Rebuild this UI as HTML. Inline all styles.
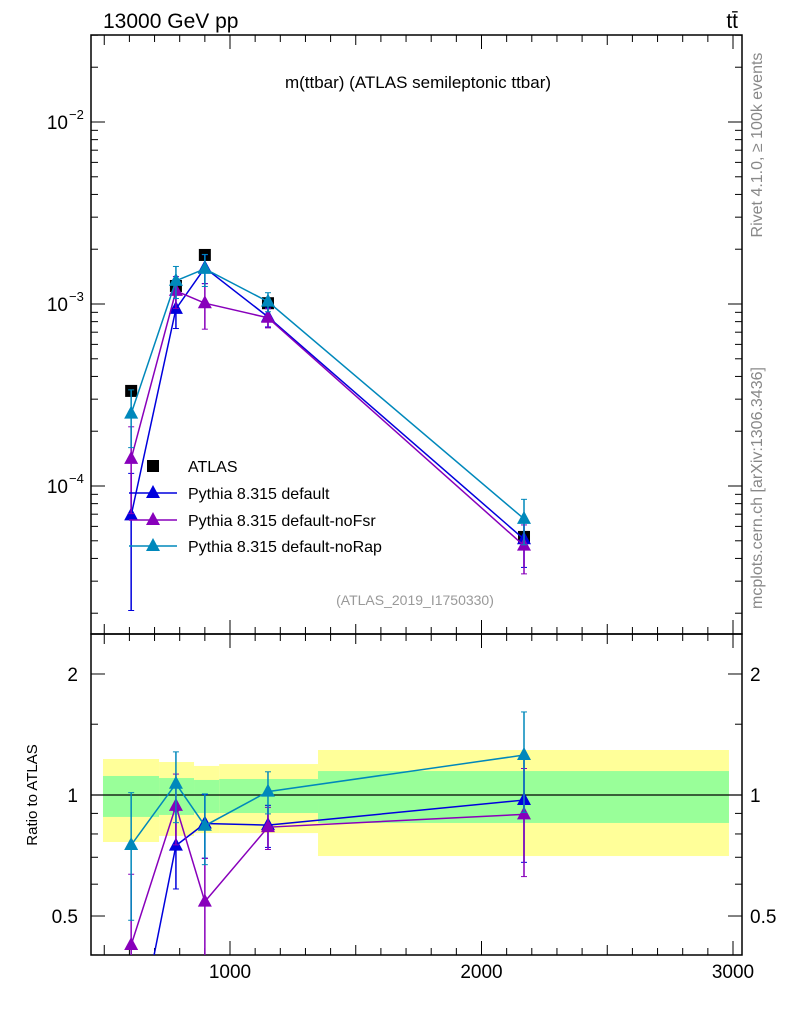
<!DOCTYPE html>
<html><head><meta charset="utf-8"><style>
html,body{margin:0;background:#fff;overflow:hidden;width:786px;height:1024px}
svg{display:block}
svg text{font-family:"Liberation Sans",sans-serif}
</style></head><body>
<svg id="c" width="786" height="1024" xmlns="http://www.w3.org/2000/svg"></svg>
<script>
const xs=[607,785,900,1151,2169];
const binEdges=[495,718,857,957,1350,2984];
const atlas=[3.33e-4,1.256e-3,1.86e-3,1.01e-3,5.25e-5];
const pyDefault=[6.9e-5,9.4e-4,1.58e-3,8.5e-4,5.1e-5];
const pyNoFsr=[1.41e-4,1.18e-3,1.01e-3,8.4e-4,4.7e-5];
const pyNoRap=[2.5e-4,1.34e-3,1.56e-3,1.03e-3,6.6e-5];
const errDefault=[0.7,0.22,0.18,0.12,0.3];
const errNoFsr=[0.5,0.2,0.28,0.12,0.3];
const errNoRap=[0.35,0.2,0.2,0.12,0.28];
const yellowHi=[1.229,1.208,1.181,1.194,1.294];
const yellowLo=[0.764,0.791,0.804,0.804,0.705];
const greenHi=[1.115,1.102,1.09,1.096,1.147];
const greenLo=[0.882,0.892,0.902,0.902,0.852];
const xTicks=[1000,2000,3000];
const yTicks=[1e-4,1e-3,1e-2];
const rTicks=[0.5,1,2];

const S=document.getElementById('c');
const NS='http://www.w3.org/2000/svg';
function el(t,a,p){const e=document.createElementNS(NS,t);for(const k in a)e.setAttribute(k,a[k]);(p||S).appendChild(e);return e;}
const L=91,R=742,T=35,M=634,B=955;
const X=v=>-21.5+v*0.2515;
const Y=v=>122-182*(Math.log10(v)+2);
const RY=r=>795-402*Math.log10(r);
function clipY(y,a,b){return Math.max(a,Math.min(b,y));}

for(let i=0;i<5;i++){
 const x1=X(binEdges[i]),x2=X(binEdges[i+1]);
 const y=el('rect',{x:x1,y:RY(yellowHi[i]),width:x2-x1,height:RY(yellowLo[i])-RY(yellowHi[i]),fill:'#ffff99'});
 
 const g=el('rect',{x:x1,y:RY(greenHi[i]),width:x2-x1,height:RY(greenLo[i])-RY(greenHi[i]),fill:'#99ff99'});
 
}
el('line',{x1:L,x2:R,y1:RY(1),y2:RY(1),stroke:'#000','stroke-width':1.2});

el('rect',{x:L,y:T,width:R-L,height:M-T,fill:'none',stroke:'#000','stroke-width':1.5});
el('rect',{x:L,y:M,width:R-L,height:B-M,fill:'none',stroke:'#000','stroke-width':1.5});

for(let v=500;v<=3000;v+=100){
 const x=X(v);if(x<L||x>R)continue;
 const len=v%1000==0?14:(v%500==0?10:7);
 [[T,1],[M,-1],[M,1],[B,-1]].forEach(([y0,d])=>el('line',{x1:x,x2:x,y1:y0,y2:y0+d*len,stroke:'#000'}));
}
xTicks.forEach(v=>{const t=el('text',{x:X(v),y:978,'font-size':19,'text-anchor':'middle'});t.textContent=v;});

for(let d=-5;d<=-2;d++)for(let m=1;m<10;m++){
 const v=m*Math.pow(10,d),y=Y(v);if(y<T||y>M)continue;
 const len=m==1?14:7;
 el('line',{x1:L,x2:L+len,y1:y,y2:y,stroke:'#000'});el('line',{x1:R,x2:R-len,y1:y,y2:y,stroke:'#000'});
}
yTicks.forEach(v=>{const e=Math.round(Math.log10(v));const t=el('text',{x:68,y:Y(v)+7,'font-size':19,'text-anchor':'end'});t.textContent='10';
 const s=el('text',{x:69,y:Y(v)-3,'font-size':13});s.textContent='\u2212'+(-e);});

[0.4,0.5,0.6,0.7,0.8,0.9,1,1.5,2].forEach(r=>{const y=RY(r);if(y<M||y>B)return;const len=(r==0.5||r==1||r==2)?14:7;
 el('line',{x1:L,x2:L+len,y1:y,y2:y,stroke:'#000'});el('line',{x1:R,x2:R-len,y1:y,y2:y,stroke:'#000'});});
rTicks.forEach(r=>{[[78,'end'],[750,'start']].forEach(([x,a])=>{const t=el('text',{x:x,y:RY(r)+7,'font-size':19,'text-anchor':a});t.textContent=r;});});

function tri(x,y,c,p){el('polygon',{points:`${x},${y-8} ${x-7},${y+5} ${x+7},${y+5}`,fill:c},p);}
function series(vals,errs,c,name){
 const g=el('g',{});
 const pts=vals.map((v,i)=>[X(xs[i]),Y(v)]);
 el('polyline',{points:pts.map(p=>p.join(',')).join(' '),fill:'none',stroke:c,'stroke-width':1.5},g);
 vals.forEach((v,i)=>{const x=X(xs[i]);const y1=Y(v*(1+errs[i])),y2=clipY(Y(v*(1-errs[i])),T,M);
  el('line',{x1:x,x2:x,y1:y1,y2:y2,stroke:c,'stroke-width':1.5},g);
  el('line',{x1:x-3,x2:x+3,y1:y1,y2:y1,stroke:c},g);el('line',{x1:x-3,x2:x+3,y1:y2,y2:y2,stroke:c},g);
  tri(x,Y(v),c,g);});
 const g2=el('g',{});
 const cp=el('clipPath',{id:'cl'+name},g2);el('rect',{x:L,y:M,width:R-L,height:B-M},cp);
 const gg=el('g',{'clip-path':`url(#cl${name})`},g2);
 const rp=vals.map((v,i)=>[X(xs[i]),RY(v/atlas[i])]);
 el('polyline',{points:rp.map(p=>p.join(',')).join(' '),fill:'none',stroke:c,'stroke-width':1.5},gg);
 vals.forEach((v,i)=>{const r=v/atlas[i],x=X(xs[i]);const y1=RY(r*(1+errs[i])),y2=RY(r*(1-errs[i]));
  el('line',{x1:x,x2:x,y1:y1,y2:y2,stroke:c,'stroke-width':1.5},gg);
  el('line',{x1:x-3,x2:x+3,y1:y1,y2:y1,stroke:c},gg);el('line',{x1:x-3,x2:x+3,y1:y2,y2:y2,stroke:c},gg);
  tri(x,RY(r),c,gg);});
}
atlas.forEach((v,i)=>{const r=el('rect',{x:X(xs[i])-6,y:Y(v)-6,width:12,height:12,fill:'#000'});});
series(pyDefault,errDefault,'#0000dd','pythia-default');
series(pyNoFsr,errNoFsr,'#8800bb','pythia-nofsr');
series(pyNoRap,errNoRap,'#0088bb','pythia-norap');

const lg=el('g',{});
el('rect',{x:147,y:460,width:12,height:12,fill:'#000'},lg);
[['ATLAS',466,null],['Pythia 8.315 default',493,'#0000dd'],['Pythia 8.315 default-noFsr',520,'#8800bb'],['Pythia 8.315 default-noRap',546,'#0088bb']].forEach(([t,y,c])=>{
 if(c){el('line',{x1:129,x2:177,y1:y,y2:y,stroke:c,'stroke-width':1.5},lg);tri(153,y,c,lg);}
 const tx=el('text',{x:188,y:y+6,'font-size':16},lg);tx.textContent=t;});

function txt(s,a,name){const t=el('text',a);t.textContent=s;return t;}
txt('13000 GeV pp',{x:103,y:28,'font-size':21},'beam-label');
txt('tt\u0304',{x:738,y:28,'font-size':21,'text-anchor':'end'},'process-label');
txt('m(ttbar) (ATLAS semileptonic ttbar)',{x:418,y:88,'font-size':17,'text-anchor':'middle'},'plot-title');
txt('(ATLAS_2019_I1750330)',{x:415,y:605,'font-size':14,fill:'#999','text-anchor':'middle'},'analysis-id');
txt('Ratio to ATLAS',{x:37,y:795,'font-size':15,'text-anchor':'middle',transform:'rotate(-90 37 795)'},'ratio-axis-title');
txt('Rivet 4.1.0, \u2265 100k events',{x:762,y:145,'font-size':16,fill:'#888','text-anchor':'middle',transform:'rotate(-90 762 145)'},'rivet-version');
txt('mcplots.cern.ch [arXiv:1306.3436]',{x:762,y:488,'font-size':16,fill:'#888','text-anchor':'middle',transform:'rotate(-90 762 488)'},'mcplots-credit');
</script>
</body></html>
